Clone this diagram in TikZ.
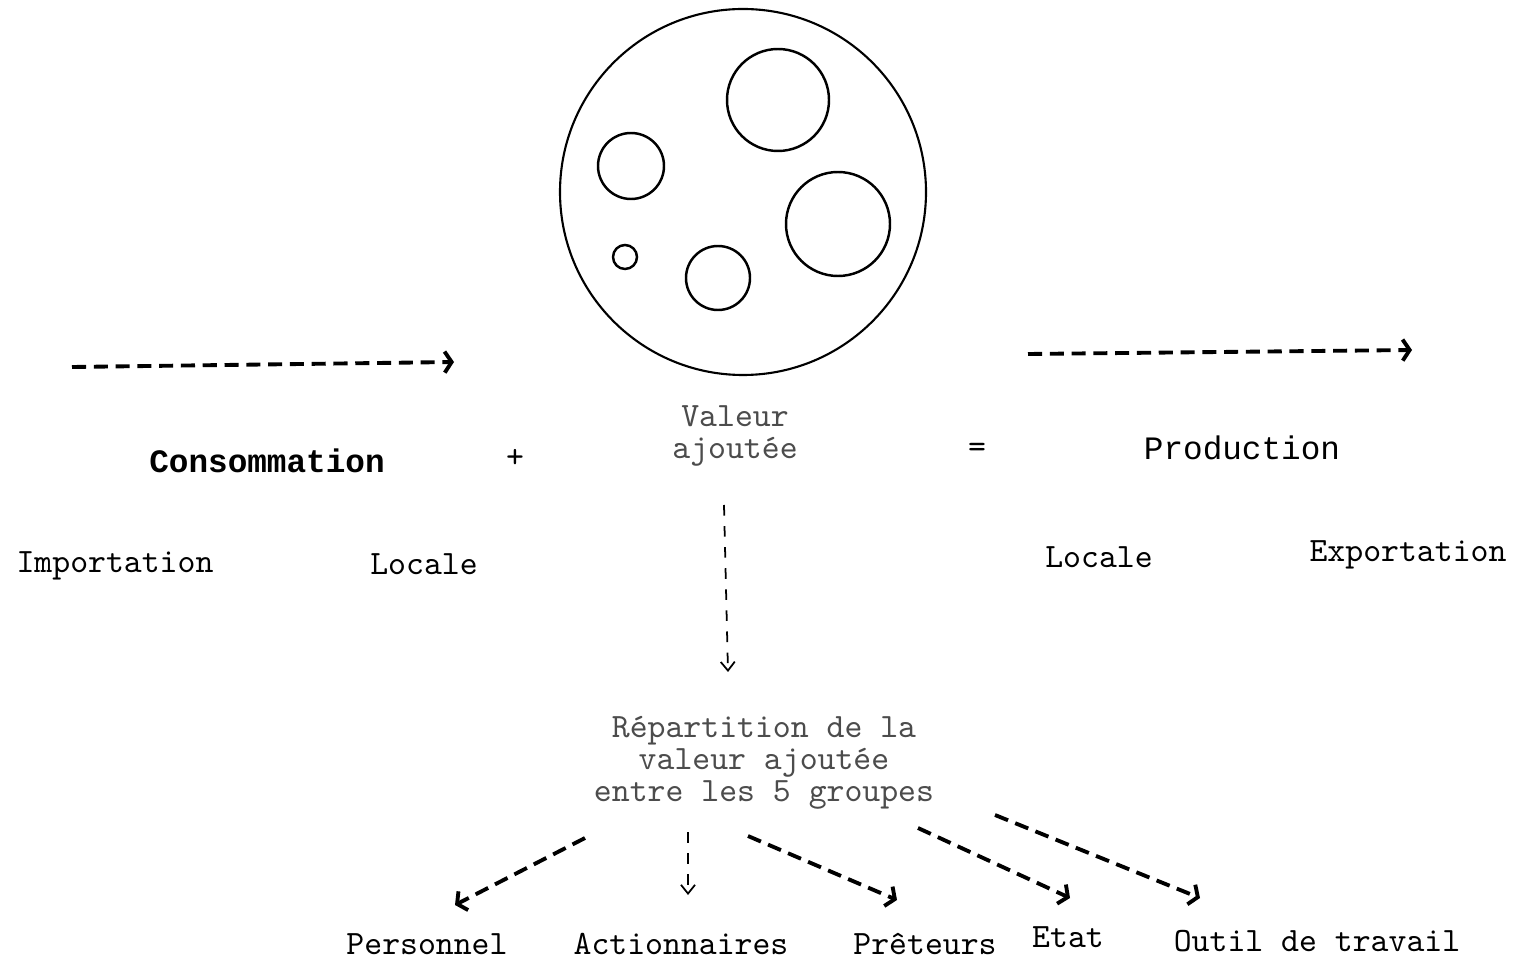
\documentclass[tikz,border=0pt]{standalone}
\usepackage{fontspec}
\newfontfamily\headmono{Liberation Mono}
\usetikzlibrary{arrows.meta}
\tikzstyle{lbl}=[font=\ttfamily\fontsize{9.7}{9.1}\selectfont,inner sep=0,align=center]
\tikzstyle{biglbl}=[font=\headmono\fontsize{9.3}{10}\selectfont,inner sep=0]
\tikzstyle{fadedlbl}=[lbl,text=black!70]
\tikzstyle{bigdash}=[line width=1.1pt,dash pattern=on 4pt off 2.2pt,-{Straight Barb[length=2pt,width=6pt]}]
\tikzstyle{thindash}=[line width=0.5pt,dash pattern=on 3pt off 3pt,-{Straight Barb[length=2.5pt,width=4pt]}]
\begin{document}
\begin{tikzpicture}[y=-1cm]
\useasboundingbox (0,0) rectangle (15.15,9.59);

% the firm and its groups
\draw[line width=0.6pt] (7.43,1.92) circle (1.83);
\foreach \x/\y/\r in {7.78/1.00/0.51, 6.31/1.66/0.33, 8.38/2.24/0.52, 7.18/2.78/0.32, 6.25/2.57/0.12}
	\draw[line width=0.7pt] (\x,\y) circle (\r);

% flows in and out
\coordinate (cin) at (0.72,3.67);
\coordinate (cout) at (4.54,3.62);
\coordinate (pin) at (10.28,3.54);
\coordinate (pout) at (14.12,3.50);
\draw[bigdash] (cin)--(cout);
\draw[bigdash] (pin)--(pout);

% the equation
\node[biglbl,font=\headmono\bfseries\fontsize{9.3}{10}\selectfont] (conso) at (2.67,4.61) {Consommation};
\node[lbl] (plus) at (5.15,4.58) {+};
\node[fadedlbl] (va) at (7.35,4.36) {Valeur\\ajoutée};
\node[lbl] (egal) at (9.77,4.50) {=};
\node[biglbl] (prod) at (12.42,4.48) {Production};
\node[lbl] (imp) at (1.15,5.66) {Importation};
\node[lbl] (locin) at (4.24,5.64) {Locale};
\node[lbl] (locout) at (10.99,5.57) {Locale};
\node[lbl] (exp) at (14.08,5.55) {Exportation};

% sharing out
\node[fadedlbl] (rep) at (7.64,7.63) {Répartition de la\\valeur ajoutée\\entre les 5 groupes};
\coordinate (va-out) at (7.24,5.05);
\coordinate (rep-in) at (7.28,6.72);
\draw[thindash] (va-out)--(rep-in);

\node[lbl] (pers) at (4.27,9.44) {Personnel};
\node[lbl] (act) at (6.81,9.44) {Actionnaires};
\node[lbl] (pret) at (9.25,9.44) {Prêteurs};
\node[lbl] (etat) at (10.68,9.37) {Etat};
\node[lbl] (outil) at (13.17,9.41) {Outil de travail};

\foreach \n/\xa/\ya/\xb/\yb in {pers/5.85/8.38/4.55/9.05, act/6.88/8.32/6.88/8.95, pret/7.48/8.36/8.97/9.00, etat/9.18/8.28/10.70/8.98, outil/9.95/8.15/12.00/8.98}{
	\coordinate (\n-a) at (\xa,\ya);
	\coordinate (\n-b) at (\xb,\yb);}
\foreach \n in {pers,pret,etat,outil}{
	\draw[bigdash] (\n-a)--(\n-b);}
\draw[thindash] (act-a)--(act-b);
\end{tikzpicture}
\end{document}
